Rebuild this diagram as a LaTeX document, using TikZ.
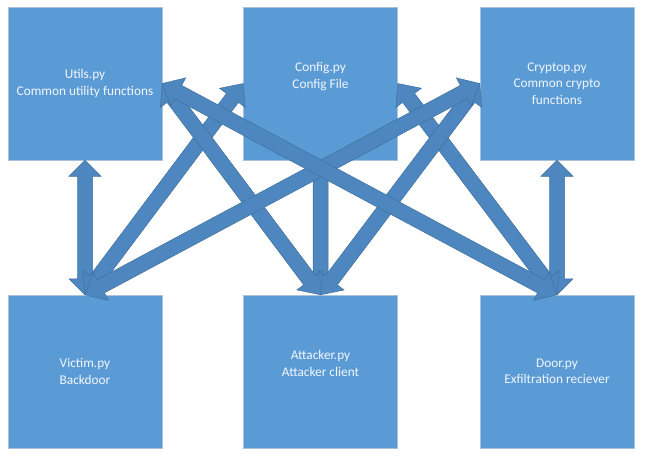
\documentclass[tikz,border=0pt]{standalone}
\usepackage{fontspec}
\setmainfont{Carlito}
\usetikzlibrary{calc}
\definecolor{boxblue}{HTML}{5B9BD5}
\definecolor{arrblue}{HTML}{4E86BF}
\definecolor{arredge}{HTML}{41719C}
\definecolor{boxedge}{HTML}{A9C3DD}
\definecolor{txt}{HTML}{F2F6FB}
\newcommand\dblarrow[3][18pt]{%
  \draw[arr] (#2) -- ($(#2)!#1!(#3)!16pt!90:(#3)$) -- ($(#2)!#1!(#3)!7.5pt!90:(#3)$)
    -- ($(#3)!#1!(#2)!7.5pt!-90:(#2)$) -- ($(#3)!#1!(#2)!16pt!-90:(#2)$) -- (#3)
    -- ($(#3)!#1!(#2)!16pt!90:(#2)$) -- ($(#3)!#1!(#2)!7.5pt!90:(#2)$)
    -- ($(#2)!#1!(#3)!7.5pt!-90:(#3)$) -- ($(#2)!#1!(#3)!16pt!-90:(#3)$) -- cycle;}
\newcommand\sglarrow[3][16pt]{%
  \draw[arr] ($(#2)!7.5pt!90:(#3)$)
    -- ($(#3)!#1!(#2)!7.5pt!-90:(#2)$) -- ($(#3)!#1!(#2)!16pt!-90:(#2)$) -- (#3)
    -- ($(#3)!#1!(#2)!16pt!90:(#2)$) -- ($(#3)!#1!(#2)!7.5pt!90:(#2)$)
    -- ($(#2)!7.5pt!-90:(#3)$) -- cycle;}
\begin{document}
\begin{tikzpicture}[x=1pt,y=-1pt,
  box/.style={rectangle, fill=boxblue, draw=boxedge, line width=0.5pt,
    minimum width=154pt, minimum height=153pt, inner sep=0pt, text=txt,
    align=center, font=\fontsize{13.3}{16.3}\selectfont},
  arr/.style={fill=arrblue, draw=arredge, line width=0.5pt, line join=miter}]
\useasboundingbox (0,0) rectangle (646,467);
\node[box] (u)  at (85,83.5)    {Utils.py\\Common utility functions};
\node[box] (c)  at (320.5,83.5) {Config.py\\Config File\\~};
\node[box] (cr) at (557,83.5)   {Cryptop.py\\Common crypto\\functions};
\node[box] (v)  at (85,371.5)   {Victim.py\\Backdoor};
\node[box] (a)  at (320.5,371.5){Attacker.py\\Attacker client\\~};
\node[box] (d)  at (557,371.5)  {Door.py\\Exfiltration reciever};
\sglarrow{c.south}{a.north}
\dblarrow[16pt]{u.south}{v.north}
\dblarrow[16pt]{cr.south}{d.north}
\dblarrow{c.east}{d.north}
\dblarrow{cr.west}{a.north}
\dblarrow{c.west}{v.north}
\dblarrow{u.east}{a.north}
\dblarrow{cr.west}{v.north}
\dblarrow{u.east}{d.north}
\end{tikzpicture}
\end{document}
